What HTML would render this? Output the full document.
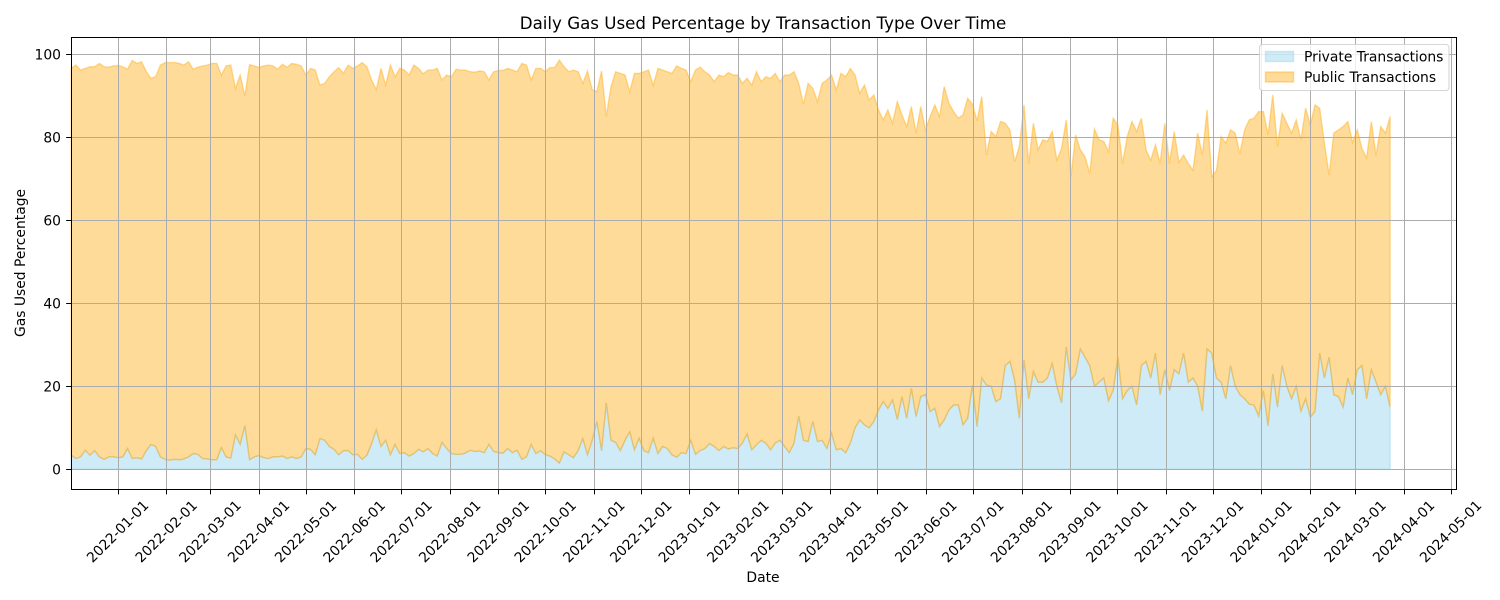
<!DOCTYPE html>
<html lang="en">
<head>
<meta charset="utf-8">
<title>Daily Gas Used Percentage by Transaction Type Over Time</title>
<style>
html,body{margin:0;padding:0;background:#fff;}
svg{display:block;font-family:"DejaVu Sans","Liberation Sans",sans-serif;}
text{fill:#000;}
</style>
</head>
<body>
<svg id="chart" xmlns="http://www.w3.org/2000/svg" width="1500" height="600" viewBox="0 0 1500 600">
  <rect x="0" y="0" width="1500" height="600" fill="#ffffff"/>
  <g id="areas"></g>
  <g id="grid"></g>
  <g id="xticks"></g>
  <g id="yticks"></g>
  <rect x="71.5" y="37.5" width="1385" height="452" fill="none" stroke="#000" stroke-width="1"/>
  <text x="763" y="29" text-anchor="middle" font-size="16.67">Daily Gas Used Percentage by Transaction Type Over Time</text>
  <text x="763" y="582" text-anchor="middle" font-size="13.89">Date</text>
  <text transform="translate(25,263) rotate(-90)" text-anchor="middle" font-size="13.89">Gas Used Percentage</text>
  <g>
    <rect x="1259.5" y="44.5" width="189.5" height="46" rx="3" fill="#ffffff" fill-opacity="0.8" stroke="#cccccc" stroke-opacity="0.8" stroke-width="1.11"/>
    <rect x="1265.5" y="51.5" width="28" height="10" fill="#87ceeb" fill-opacity="0.4" stroke="#87ceeb" stroke-opacity="0.4" stroke-width="1.39"/>
    <text x="1304" y="61.5" font-size="13.89">Private Transactions</text>
    <rect x="1265.5" y="72" width="28" height="10" fill="#ffa500" fill-opacity="0.4" stroke="#ffa500" stroke-opacity="0.4" stroke-width="1.39"/>
    <text x="1304" y="82" font-size="13.89">Public Transactions</text>
  </g>
</svg>
<script>
const firstDate = "2021-12-02";
const lastDate = "2024-03-23";
const xTickLabels = ["2022-01-01","2022-02-01","2022-03-01","2022-04-01","2022-05-01","2022-06-01","2022-07-01","2022-08-01","2022-09-01","2022-10-01","2022-11-01","2022-12-01","2023-01-01","2023-02-01","2023-03-01","2023-04-01","2023-05-01","2023-06-01","2023-07-01","2023-08-01","2023-09-01","2023-10-01","2023-11-01","2023-12-01","2024-01-01","2024-02-01","2024-03-01","2024-04-01","2024-05-01"];
const yTickValues = [0,20,40,60,80,100];
const privateValues = [
3.4,2.6,3,4.6,3.4,4.5,3,2.4,3,3,
2.8,3,5,2.6,2.8,2.5,4.5,6,5.5,3,2.4,
2.2,2.4,2.3,2.5,3,3.8,3.6,2.6,2.5,2.3,
2.3,5.2,3,2.7,8.3,6,10.5,2.3,3,3.3,
2.8,2.6,3,3,3.2,2.6,3,2.6,3,5,
4.8,3.5,7.4,7,5.5,4.8,3.5,4.5,4.5,3.5,
3.6,2.4,3.4,6.2,9.5,5.5,7,3.5,6,3.8,
4,3.2,3.8,4.8,4.2,5,3.8,3.2,6.5,5,
3.8,3.6,3.6,3.9,4.6,4.3,4.4,4,6,4.3,
4,3.9,5,4,4.6,2.4,3,6,3.8,4.5,
3.5,3.2,2.5,1.5,4.2,3.5,2.8,4.5,7.4,3.5,7,
11.5,4.5,16,7,6.5,4.5,7,9,4.7,7.5,
4.5,4,7.5,3.8,5.5,5,3.5,2.9,4,3.8,7,
3.6,4.5,5,6.2,5.5,4.5,5.5,4.9,5.2,5,
6.3,8.5,4.7,5.9,7,6.3,4.7,6.3,7,
5.5,4,6.3,12.8,7,6.7,11.5,6.7,7,5,
8.7,4.7,5,4,6.3,10,11.9,10.7,10,11.5,
14.3,16.3,14.7,16.7,12,17.5,12.3,19.5,12.7,17.5,
18,13.9,14.7,10.3,11.9,14.3,15.5,15.5,10.7,12.3,
20.3,10.3,22,20.3,20,16.3,17,25,26,21.5,12.3,
26.3,17,23.5,21,21,22,25.5,20,16,29.5,21.5,23,
29,27,25,20,21,22,16.5,19,27,17,19,20,15.5,25,26,22,28,18,24,19,
24,23,28,21,22,20,14,29,28,22,21,17,25,20,18,17,15.7,15.5,12.8,
19,10.5,23,15,25,20,17,20,14,17,12.5,14,28,22,27,18,17.5,15,
22,18,24,25,17,24,21,18,20,15
];
const publicValues = [
93.2,94.8,93.2,92,93.6,92.5,94.8,94.6,93.9,94.2,
94.5,94,91.4,95.9,95,95.7,91.3,88.2,89.1,94.4,95.6,
95.8,95.6,95.5,94.9,95.2,92.6,93.3,94.6,94.9,95.5,
95.5,89.8,94.2,94.7,83.5,89,79.5,95.2,94.2,93.5,
94.4,94.8,94.2,93.4,94.4,94.3,94.8,95,94.2,90,
91.8,92.7,85.2,86,89.1,91,93.3,90.9,92.9,93.1,
93.6,95.6,93.6,87.6,82,91.1,85.6,93.9,88.6,92.8,
92.2,91.8,93.6,91.8,91.1,91.2,92.4,93.4,87.3,90,
90.8,92.8,92.6,92.3,91.2,91.4,91.6,91.8,87.8,91.5,
92.1,92.2,91.6,92.2,91.2,95.4,94.4,87.8,92.8,92.1,
92.3,93.6,94.3,97.1,92.8,92.3,93.4,91.3,85.6,92.5,84.5,
79.5,91.5,69,85.2,89.3,90.9,88,82,90.7,87.9,
91.3,92.2,85,92.8,90.7,90.8,91.9,94.3,92.6,92.4,86.4,
92.6,92.4,90.8,88.8,87.9,90.5,89.1,90.7,89.8,90,
86.7,85.7,87.9,89.9,86.4,88.3,89.5,89.1,86.4,
89.5,91,89.5,80.2,81,86.3,80.3,81.9,86,88.8,
86.3,86.7,90.4,90.6,90.3,85,78.7,81.9,79,78.7,
72.3,67.9,71.9,66.7,76.6,67.9,70.3,67.9,68.3,69.9,
63.8,71.1,73.1,74.7,80.3,73.9,70.7,69.1,74.7,77.1,
67.7,73.7,67.8,55.4,61.4,63.9,66.8,58.4,55.8,52.6,65.5,
61.5,56.7,59.9,56,58.4,57,55.9,54.5,61.3,54.7,49,57.6,
48,48.3,46.3,62,58.4,57,60,65.6,56,56.7,61.2,63.8,65.9,59.6,51,52.5,50.2,55.7,59.4,54.7,
57.4,51,47.7,52.7,50.1,61,61.7,57.6,42.5,50,59.2,61.6,56.8,61,58.1,64.8,68.5,69.1,73.4,
67.2,70.1,67.2,62.8,60.8,63.4,64,64.2,65.4,70,70.5,73.8,59,56.6,43.9,63,64.3,67.6,
61.8,60.8,57.8,52.3,58,59.8,54.7,64.6,61,70
];
</script>
<script>
const NS = "http://www.w3.org/2000/svg";
const DAY = 86400000;
const plot = {left:71.2,right:1456,top:38,bottom:489};
const xOriginMs = Date.UTC(2021,11,2);
const pxPerDay = 1.5664;
function xScale(ms){ return plot.left + (ms - xOriginMs) / DAY * pxPerDay; }
const pxPerUnit = 4.15;
function yScale(v){ return 469.3 - v * pxPerUnit; }
function snap(p){ return Math.floor(p) + 0.5; }
function parseDate(s){ const p = s.split("-"); return Date.UTC(+p[0], +p[1]-1, +p[2]); }
function pointX(i, n){
  const a = parseDate(firstDate), b = parseDate(lastDate);
  return xScale(a + (b - a) * i / (n - 1));
}
function make(tag, attrs){
  const el = document.createElementNS(NS, tag);
  for (const k in attrs) el.setAttribute(k, attrs[k]);
  return el;
}

/* stacked areas */
const areas = document.getElementById("areas");
const n = Math.min(privateValues.length, publicValues.length);
let lower = [], upper = [];
for (let i = 0; i < n; i++) {
  const x = pointX(i, n).toFixed(2);
  lower.push(x + "," + yScale(privateValues[i]).toFixed(2));
  upper.push(x + "," + yScale(privateValues[i] + publicValues[i]).toFixed(2));
}
const base = [pointX(n-1, n).toFixed(2) + "," + yScale(0).toFixed(2), pointX(0, n).toFixed(2) + "," + yScale(0).toFixed(2)];
const privateArea = make("polygon", {points: lower.concat(base).join(" "), fill:"#87ceeb", "fill-opacity":"0.4", stroke:"#87ceeb", "stroke-opacity":"0.4", "stroke-width":"1.39"});


areas.appendChild(privateArea);
const publicArea = make("polygon", {points: upper.concat(lower.slice().reverse()).join(" "), fill:"#ffa500", "fill-opacity":"0.4", stroke:"#ffa500", "stroke-opacity":"0.4", "stroke-width":"1.39"});


areas.appendChild(publicArea);

/* x axis */
const grid = document.getElementById("grid");
const xticks = document.getElementById("xticks");
xTickLabels.forEach(function(label){
  const x = xScale(parseDate(label));
  const sx = snap(x);
  const g = make("line", {x1:sx, x2:sx, y1:plot.top, y2:plot.bottom, stroke:"#acacac", "stroke-width":"1"});
  
  
  grid.appendChild(g);
  const t = make("line", {x1:sx, x2:sx, y1:plot.bottom, y2:plot.bottom + 5.4, stroke:"#000", "stroke-width":"1"});
  
  
  xticks.appendChild(t);
  const txt = make("text", {transform:"translate(" + x + ",532) rotate(-45)", "text-anchor":"middle", "dominant-baseline":"central", "font-size":"13.89"});
  
  
  txt.textContent = label;
  xticks.appendChild(txt);
});

/* y axis */
const yticks = document.getElementById("yticks");
yTickValues.forEach(function(v){
  const y = yScale(v);
  const sy = snap(y);
  const g = make("line", {x1:71, x2:plot.right, y1:sy, y2:sy, stroke:"#acacac", "stroke-width":"1"});
  
  
  grid.appendChild(g);
  const t = make("line", {x1:66.1, x2:71, y1:sy, y2:sy, stroke:"#000", "stroke-width":"1"});
  
  
  yticks.appendChild(t);
  const txt = make("text", {x:61, y:y + 5, "text-anchor":"end", "font-size":"13.89"});
  
  
  txt.textContent = String(v);
  yticks.appendChild(txt);
});
</script>
</body>
</html>
